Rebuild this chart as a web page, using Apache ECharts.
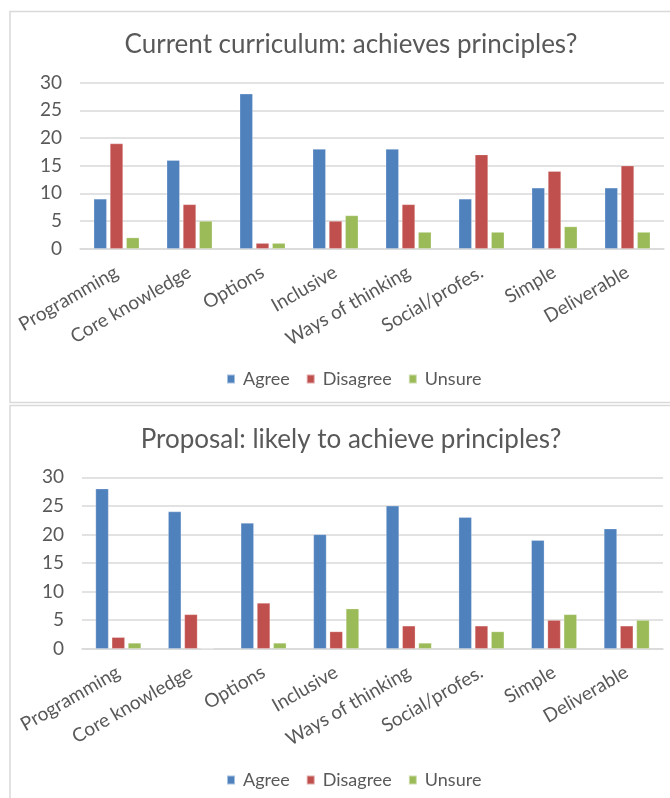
<!DOCTYPE html>
<html><head><meta charset="utf-8">
<script src="https://cdn.jsdelivr.net/npm/echarts@6/dist/echarts.min.js"></script>
<style>html,body{margin:0;padding:0;background:#fff}#c{width:670px;height:798px}</style>
</head><body><div id="c"></div>
<script>
const categories = ["Programming","Core knowledge","Options","Inclusive","Ways of thinking","Social/profes.","Simple","Deliverable"];
const seriesNames = ["Agree","Disagree","Unsure"];
const currentAgree    = [9, 16, 28, 18, 18, 9, 11, 11];
const currentDisagree = [19, 8, 1, 5, 8, 17, 14, 15];
const currentUnsure   = [2, 5, 1, 6, 3, 3, 4, 3];
const proposalAgree    = [28, 24, 22, 20, 25, 23, 19, 21];
const proposalDisagree = [2, 6, 8, 3, 4, 4, 5, 4];
const proposalUnsure   = [1, 0, 1, 7, 1, 3, 6, 5];
const titles = ["Current curriculum: achieves principles?", "Proposal: likely to achieve principles?"];
const yTicks = [0, 5, 10, 15, 20, 25, 30];

const colors = ["#4f81bd", "#c0504d", "#9bbb59"];
const FONT = "Lato";
const TXT = "#595959";

function xAxis(i){
  return {type:"category", gridIndex:i, data:categories,
    axisTick:{show:false},
    axisLine:{lineStyle:{color:"#d9d9d9", width:1.5}},
    axisLabel:{rotate:30, margin:22, color:TXT, fontFamily:FONT, fontSize:19, interval:0}};
}
function yAxis(i){
  return {type:"value", gridIndex:i, min:yTicks[0], max:yTicks[yTicks.length-1], interval:yTicks[1]-yTicks[0],
    axisLine:{show:false}, axisTick:{show:false},
    splitLine:{lineStyle:{color:"#d9d9d9", width:1.5}},
    axisLabel:{color:TXT, fontFamily:FONT, fontSize:19, margin:18}};
}
function bars(i, arrs){
  return arrs.map((d,k)=>({name:seriesNames[k], type:"bar", xAxisIndex:i, yAxisIndex:i, data:d,
    barWidth:13, barGap:"25%", itemStyle:{color:colors[k], borderColor:"rgba(255,255,255,0.5)", borderWidth:0.5},
    emphasis:{disabled:true}}));
}
function legend(top){
  return {data:seriesNames, left:221, top:top, itemWidth:8, itemHeight:9, itemGap:16, icon:"rect",
    textStyle:{fontFamily:FONT, fontSize:18, color:TXT, padding:[0,0,0,3]}, selectedMode:false};
}
const chart = echarts.init(document.getElementById("c"), null, {renderer:"canvas"});
chart.setOption({
  animation:false,
  color:colors,
  graphic:[
    {type:"rect", shape:{x:10, y:11.5, width:720, height:391}, style:{fill:"none", stroke:"#d9d9d9", lineWidth:1.5}, silent:true},
    {type:"rect", shape:{x:10, y:405.5, width:720, height:420}, style:{fill:"none", stroke:"#d9d9d9", lineWidth:1.5}, silent:true}
  ],
  title:[
    {text:titles[0], left:346, top:27, textAlign:"center", textStyle:{fontFamily:FONT, fontWeight:"normal", fontSize:26, color:TXT}},
    {text:titles[1], left:346, top:422, textAlign:"center", textStyle:{fontFamily:FONT, fontWeight:"normal", fontSize:26, color:TXT}}
  ],
  legend:[legend(365), legend(766)],
  grid:[
    {left:80, top:82.7, width:584, height:166},
    {left:82, top:477.3, width:581, height:171.4}
  ],
  xAxis:[xAxis(0), xAxis(1)],
  yAxis:[yAxis(0), yAxis(1)],
  series:[...bars(0,[currentAgree,currentDisagree,currentUnsure]), ...bars(1,[proposalAgree,proposalDisagree,proposalUnsure])]
});
</script></body></html>
